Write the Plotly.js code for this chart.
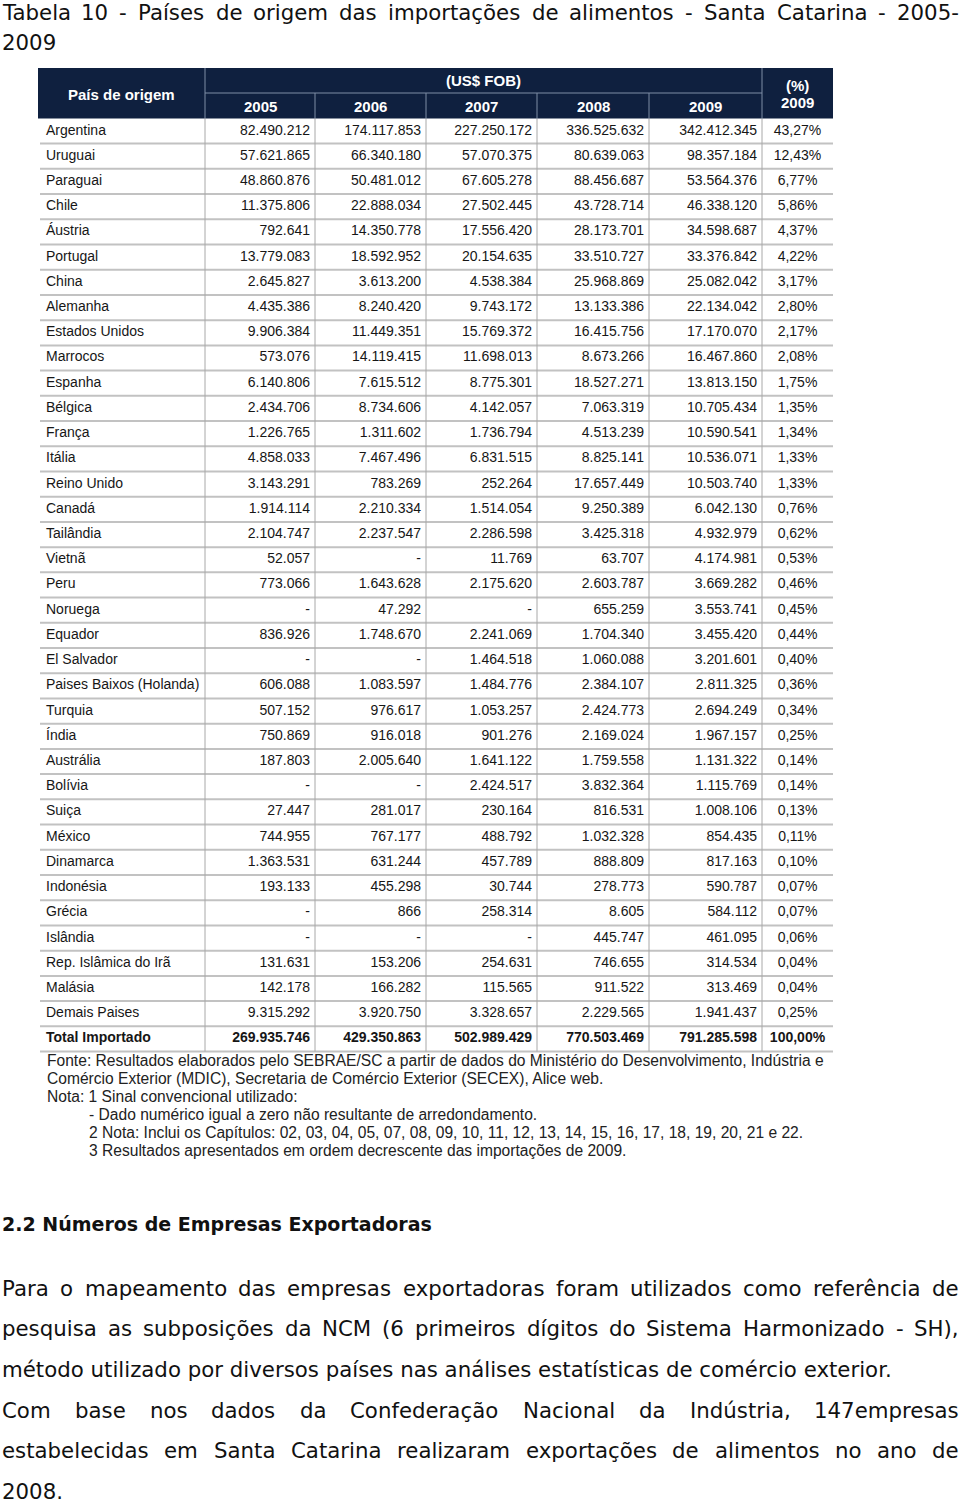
<!DOCTYPE html>
<html>
<head>
<meta charset="utf-8">
<script src="https://cdn.plot.ly/plotly-3.0.1.min.js"></script>
<style>
  body { margin: 0; background: #ffffff; }
  #graphique { width: 960px; height: 1505px; }
</style>
</head>
<body>
<div id="graphique"></div>
<script>
// Données du tableau (US$ FOB), null = "-" (zéro non arrondi)
const paises = ["Argentina", "Uruguai", "Paraguai", "Chile", "Áustria", "Portugal", "China", "Alemanha",
    "Estados Unidos", "Marrocos", "Espanha", "Bélgica", "França", "Itália", "Reino Unido", "Canadá",
    "Tailândia", "Vietnã", "Peru", "Noruega", "Equador", "El Salvador", "Paises Baixos (Holanda)", "Turquia",
    "Índia", "Austrália", "Bolívia", "Suiça", "México", "Dinamarca", "Indonésia", "Grécia", "Islândia",
    "Rep. Islâmica do Irã", "Malásia", "Demais Paises", "Total Importado"]

const anos = ["2005", "2006", "2007", "2008", "2009"]

const valores2005 = [82490212, 57621865, 48860876, 11375806, 792641, 13779083, 2645827, 4435386, 9906384,
    573076, 6140806, 2434706, 1226765, 4858033, 3143291, 1914114, 2104747, 52057, 773066, null, 836926,
    null, 606088, 507152, 750869, 187803, null, 27447, 744955, 1363531, 193133, null, null, 131631, 142178,
    9315292, 269935746]
const valores2006 = [174117853, 66340180, 50481012, 22888034, 14350778, 18592952, 3613200, 8240420, 11449351,
    14119415, 7615512, 8734606, 1311602, 7467496, 783269, 2210334, 2237547, null, 1643628, 47292, 1748670,
    null, 1083597, 976617, 916018, 2005640, null, 281017, 767177, 631244, 455298, 866, null, 153206, 166282,
    3920750, 429350863]
const valores2007 = [227250172, 57070375, 67605278, 27502445, 17556420, 20154635, 4538384, 9743172, 15769372,
    11698013, 8775301, 4142057, 1736794, 6831515, 252264, 1514054, 2286598, 11769, 2175620, null, 2241069,
    1464518, 1484776, 1053257, 901276, 1641122, 2424517, 230164, 488792, 457789, 30744, 258314, null, 254631,
    115565, 3328657, 502989429]
const valores2008 = [336525632, 80639063, 88456687, 43728714, 28173701, 33510727, 25968869, 13133386, 16415756,
    8673266, 18527271, 7063319, 4513239, 8825141, 17657449, 9250389, 3425318, 63707, 2603787, 655259, 1704340,
    1060088, 2384107, 2424773, 2169024, 1759558, 3832364, 816531, 1032328, 888809, 278773, 8605, 445747, 746655,
    911522, 2229565, 770503469]
const valores2009 = [342412345, 98357184, 53564376, 46338120, 34598687, 33376842, 25082042, 22134042, 17170070,
    16467860, 13813150, 10705434, 10590541, 10536071, 10503740, 6042130, 4932979, 4174981, 3669282, 3553741,
    3455420, 3201601, 2811325, 2694249, 1967157, 1131322, 1115769, 1008106, 854435, 817163, 590787, 584112,
    461095, 314534, 313469, 1941437, 791285598]
const parts2009 = [43.27, 12.43, 6.77, 5.86, 4.37, 4.22, 3.17, 2.80, 2.17, 2.08, 1.75, 1.35, 1.34, 1.33, 1.33,
    0.76, 0.62, 0.53, 0.46, 0.45, 0.44, 0.40, 0.36, 0.34, 0.25, 0.14, 0.14, 0.13, 0.11, 0.10, 0.07, 0.07, 0.06,
    0.04, 0.04, 0.25, 100.00]

const titre = ["Tabela 10 - Países de origem das importações de alimentos - Santa Catarina - 2005-", "2009"]
const notes = [
    "Fonte: Resultados elaborados pelo SEBRAE/SC a partir de dados do Ministério do Desenvolvimento, Indústria e",
    "Comércio Exterior (MDIC), Secretaria de Comércio Exterior (SECEX), Alice web.",
    "Nota: 1 Sinal convencional utilizado:",
    "- Dado numérico igual a zero não resultante de arredondamento.",
    "2 Nota: Inclui os Capítulos: 02, 03, 04, 05, 07, 08, 09, 10, 11, 12, 13, 14, 15, 16, 17, 18, 19, 20, 21 e 22.",
    "3 Resultados apresentados em ordem decrescente das importações de 2009."
]
const retraitNotes = [0, 0, 0, 1, 1, 1]
const sousTitre = "2.2 Números de Empresas Exportadoras"
const paragraphe = [
    "Para o mapeamento das empresas exportadoras foram utilizados como referência de",
    "pesquisa as subposições da NCM (6 primeiros dígitos do Sistema Harmonizado - SH),",
    "método utilizado por diversos países nas análises estatísticas de comércio exterior.",
    "Com base nos dados da Confederação Nacional da Indústria, 147empresas",
    "estabelecidas em Santa Catarina realizaram exportações de alimentos no ano de",
    "2008."
]
const justifie = [true, true, false, true, true, false]

// Géométrie de la page (en pixels, axes 0-960 / 0-1505)
const BORDS = [38, 205, 315, 426, 537, 649, 762, 833]
const HAUT_ENTETE = 68
const MILIEU_ENTETE = 93
const HAUT_CORPS = 118.4
const HAUTEUR_LIGNE = 25.22
const POLICE_DOC = "DejaVu Sans"
const POLICE_TAB = "Liberation Sans, Arial, sans-serif"
const POLICE_NOTE = "Liberation Sans, Arial, sans-serif"
const BLEU = "#0f203f"
const TAILLE_DOC = 21.3

function formater(v) {
    if (v === null) return "-"
    return String(v).replace(/\B(?=(\d{3})+(?!\d))/g, ".")
}

function centre_ligne(i) {
    return HAUT_CORPS + (i + 0.5) * HAUTEUR_LIGNE
}

let ctx = document.createElement("canvas").getContext("2d")
function largeur_texte(texte, taille, famille, gras) {
    ctx.font = (gras ? "bold " : "") + taille + "px '" + famille + "'"
    return ctx.measureText(texte).width
}

// Un mot par annotation pour justifier la ligne sur toute la largeur
function ligne_justifiee(texte, y, taille, x0, x1) {
    let mots = texte.split(" ")
    let largeurs = mots.map(m => largeur_texte(m, taille, POLICE_DOC, false))
    let total = largeurs.reduce((a, b) => a + b, 0)
    let espace = (x1 - x0 - total) / (mots.length - 1)
    let x = x0
    let sortie = []
    for (let k = 0; k < mots.length; k++) {
        sortie.push(texte_doc(mots[k], x, y, taille))
        x = x + largeurs[k] + espace
    }
    return sortie
}

function texte_doc(texte, x, y, taille, gras) {
    return {
        text: gras ? "<b>" + texte + "</b>" : texte, x: x, y: y, xref: "x", yref: "y",
        xanchor: "left", yanchor: "middle", showarrow: false, borderpad: 0,
        font: {family: POLICE_DOC, size: taille, color: "#111111"}
    }
}

let n = paises.length
let ys = paises.map((p, i) => centre_ligne(i))
let colonnes = [valores2005, valores2006, valores2007, valores2008, valores2009]
let gras = t => t.map((s, i) => i === n - 1 ? "<b>" + s + "</b>" : s)
let police_cellule = {family: POLICE_TAB, size: 14, color: "#161616"}

let traces = []
traces.push({
    x: paises.map(() => BORDS[0] + 8), y: ys, text: gras(paises), mode: "text", type: "scatter",
    textposition: "middle right", hoverinfo: "none", textfont: police_cellule
})
colonnes.forEach((col, j) => {
    traces.push({
        x: col.map(() => BORDS[j + 2] - 5), y: ys, text: gras(col.map(formater)), mode: "text",
        type: "scatter", textposition: "middle left", hoverinfo: "none", textfont: police_cellule
    })
})
traces.push({
    x: parts2009.map(() => (BORDS[6] + BORDS[7]) / 2), y: ys,
    text: gras(parts2009.map(v => v.toFixed(2).replace(".", ",") + "%")), mode: "text", type: "scatter",
    textposition: "middle center", hoverinfo: "none", textfont: police_cellule
})

// Traits et fond d'en-tête
let formes = []
let bas = HAUT_CORPS + n * HAUTEUR_LIGNE
formes.push({type: "rect", x0: BORDS[0], x1: BORDS[7], y0: HAUT_ENTETE, y1: HAUT_CORPS,
    fillcolor: BLEU, line: {width: 0}, layer: "below"})
for (let k = 1; k <= n; k++) {
    let yk = HAUT_CORPS + k * HAUTEUR_LIGNE
    formes.push({type: "line", x0: BORDS[0] + 2, x1: BORDS[7], y0: yk, y1: yk,
        line: {color: "#c2c2c2", width: 2}, layer: "below"})
}
for (let j = 1; j <= 6; j++) {
    formes.push({type: "line", x0: BORDS[j], x1: BORDS[j], y0: HAUT_CORPS, y1: bas,
        line: {color: "#a8a8a8", width: 1}, layer: "below"})
}
let trait_entete = {color: "#7f8da6", width: 1}
formes.push({type: "line", x0: BORDS[1], x1: BORDS[6], y0: MILIEU_ENTETE, y1: MILIEU_ENTETE, line: trait_entete})
formes.push({type: "line", x0: BORDS[1], x1: BORDS[1], y0: HAUT_ENTETE, y1: HAUT_CORPS, line: trait_entete})
formes.push({type: "line", x0: BORDS[6], x1: BORDS[6], y0: HAUT_ENTETE, y1: HAUT_CORPS, line: trait_entete})
for (let j = 2; j <= 5; j++) {
    formes.push({type: "line", x0: BORDS[j], x1: BORDS[j], y0: MILIEU_ENTETE, y1: HAUT_CORPS, line: trait_entete})
}

// Textes
let notes_annot = []
let police_entete = {family: POLICE_TAB, size: 15, color: "#ffffff"}
let entete = (t, x, y) => ({text: "<b>" + t + "</b>", x: x, y: y, xref: "x", yref: "y",
    showarrow: false, font: police_entete, xanchor: "center", yanchor: "middle"})
notes_annot.push(entete("País de origem", (BORDS[0] + BORDS[1]) / 2, 94))
notes_annot.push(entete("(US$ FOB)", (BORDS[1] + BORDS[6]) / 2, 80))
anos.forEach((a, j) => notes_annot.push(entete(a, (BORDS[j + 1] + BORDS[j + 2]) / 2, 106)))
notes_annot.push(entete("(%)", (BORDS[6] + BORDS[7]) / 2, 85))
notes_annot.push(entete("2009", (BORDS[6] + BORDS[7]) / 2, 102))

notes.forEach((t, k) => notes_annot.push({
    text: t, x: retraitNotes[k] ? 88 : 46, y: 1060 + k * 18.1, xref: "x", yref: "y",
    xanchor: "left", yanchor: "middle", showarrow: false, borderpad: 0,
    font: {family: POLICE_NOTE, size: 15.6, color: "#222222"}
}))

notes_annot = notes_annot.concat(ligne_justifiee(titre[0], 12, TAILLE_DOC, 1, 958))
notes_annot.push(texte_doc(titre[1], 1, 42, TAILLE_DOC))
notes_annot.push(texte_doc(sousTitre, 1, 1224, 19, true))
paragraphe.forEach((t, k) => {
    let y = 1288 + k * 40.7
    if (justifie[k]) {
        notes_annot = notes_annot.concat(ligne_justifiee(t, y, TAILLE_DOC, 1, 958))
    } else {
        notes_annot.push(texte_doc(t, 1, y, TAILLE_DOC))
    }
})

let apparence = {
    width: 960, height: 1505,
    margin: {l: 0, r: 0, t: 0, b: 0},
    paper_bgcolor: "#ffffff", plot_bgcolor: "#ffffff",
    showlegend: false,
    xaxis: {range: [0, 960], visible: false, fixedrange: true},
    yaxis: {range: [1505, 0], visible: false, fixedrange: true},
    shapes: formes,
    annotations: notes_annot
}

Plotly.newPlot("graphique", traces, apparence, {staticPlot: true})
</script>
</body>
</html>
